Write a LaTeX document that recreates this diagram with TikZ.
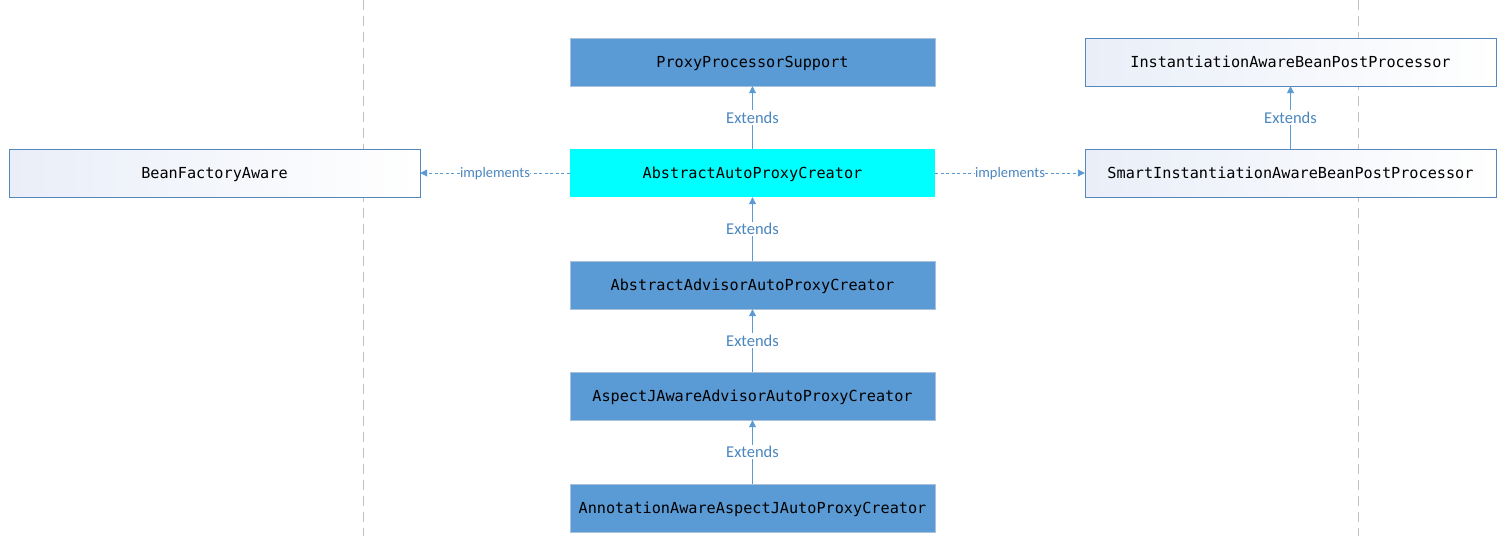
\documentclass[tikz,border=0pt]{standalone}
\usepackage{fontspec}
\setmonofont{DejaVu Sans Mono}
\newfontfamily\labelfont{Carlito}
\usetikzlibrary{arrows.meta}
\definecolor{classblue}{HTML}{5B9BD5}
\definecolor{classedge}{HTML}{A9C1DA}
\definecolor{hotcyan}{HTML}{00FFFF}
\definecolor{ifaceedge}{HTML}{5587BD}
\definecolor{ifaceshade}{HTML}{E9EEF8}
\definecolor{linkblue}{HTML}{5B9BD5}
\definecolor{linktext}{HTML}{4A86BF}
\tikzset{
  box/.style={minimum height=48pt, inner sep=0pt, text depth=0pt, text height=11pt,
    font=\ttfamily\fontsize{15.2}{18}\selectfont},
  classbox/.style={box, minimum width=365pt, fill=classblue, draw=classedge},
  hotbox/.style={box, minimum width=365pt, fill=hotcyan, draw=none},
  ifacebox/.style={box, minimum width=411pt, draw=ifaceedge, left color=ifaceshade, right color=white},
  extends/.style={-{Triangle[length=7pt,width=7pt]}, draw=linkblue, line width=0.9pt},
  implements/.style={extends, dash pattern=on 3pt off 2.5pt},
  linklabel/.style={fill=white, inner sep=1.5pt, text=linktext, font=\labelfont\fontsize{16.5}{19}\selectfont},
  smalllabel/.style={linklabel, inner sep=0.5pt, text height=9pt, text depth=0pt,
    font=\labelfont\fontsize{14.5}{17}\selectfont}
}
\begin{document}
\begin{tikzpicture}[x=1pt,y=1pt]
  \fill[white] (0,0) rectangle (1506,-536);
  \useasboundingbox (0,0) rectangle (1506,-536);
  % lane separators
  \draw[gray!50, line width=0.9pt, dash pattern=on 10pt off 6pt] (363,0) -- (363,-536);
  \draw[gray!50, line width=0.9pt, dash pattern=on 10pt off 6pt] (1358,0) -- (1358,-536);
  % classes
  \node[classbox] (pps) at (752.5,-62) {ProxyProcessorSupport};
  \node[hotbox] (aapc) at (752.5,-173) {AbstractAutoProxyCreator};
  \node[classbox] (aadvapc) at (752.5,-285) {AbstractAdvisorAutoProxyCreator};
  \node[classbox] (ajaapc) at (752.5,-396) {AspectJAwareAdvisorAutoProxyCreator};
  \node[classbox] (aaajapc) at (752.5,-508) {AnnotationAwareAspectJAutoProxyCreator};
  % interfaces
  \node[ifacebox] (bfa) at (214.5,-173) {BeanFactoryAware};
  \node[ifacebox] (iabpp) at (1290.5,-62) {InstantiationAwareBeanPostProcessor};
  \node[ifacebox] (siabpp) at (1290.5,-173) {SmartInstantiationAwareBeanPostProcessor};
  \begin{scope}
    \draw[extends] (aapc) to node[linklabel] {Extends} (pps);
    \draw[extends] (aadvapc) to node[linklabel] {Extends} (aapc);
    \draw[extends] (ajaapc) to node[linklabel] {Extends} (aadvapc);
    \draw[extends] (aaajapc) to node[linklabel] {Extends} (ajaapc);
    \draw[extends] (siabpp) to node[linklabel] {Extends} (iabpp);
    \draw[implements] (aapc) to node[smalllabel] {implements} (bfa);
    \draw[implements] (aapc) to node[smalllabel] {implements} (siabpp);
  \end{scope}
\end{tikzpicture}
\end{document}
